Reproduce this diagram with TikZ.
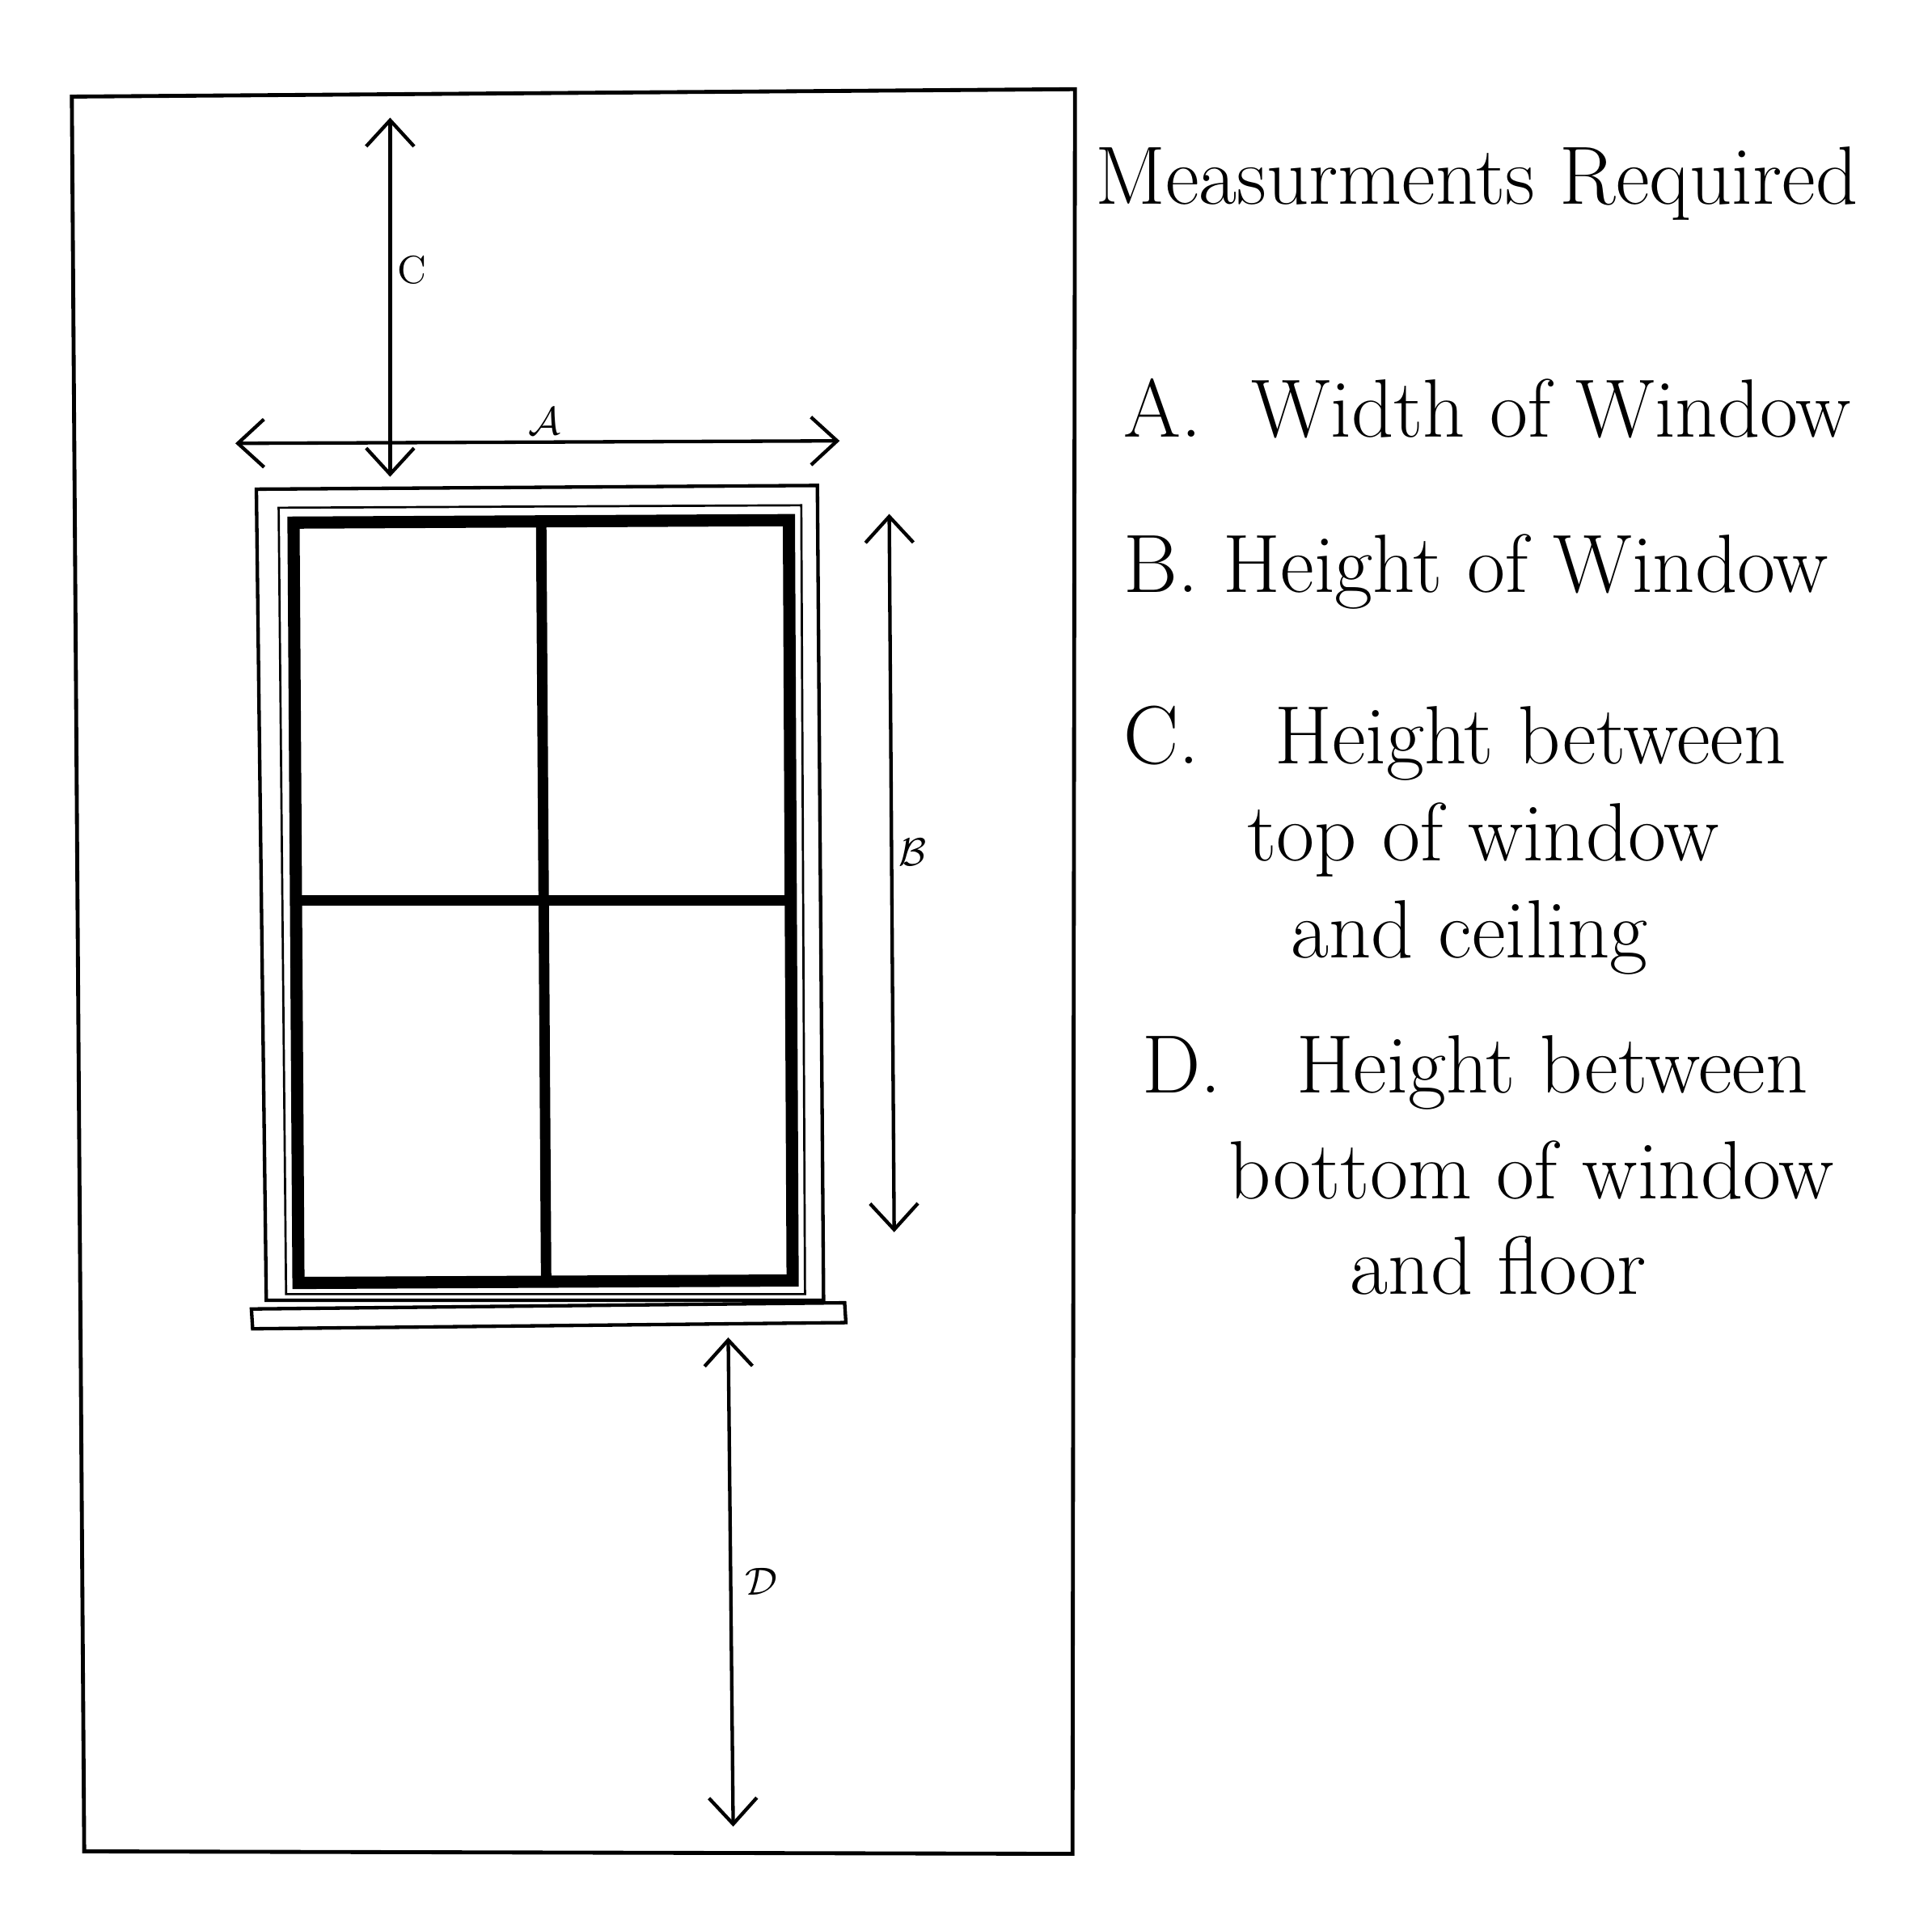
\documentclass[tikz,border=0pt]{standalone}
\usepackage{tikz}
\usetikzlibrary{arrows.meta, positioning}
\tikzset{
  dimline/.style={line width=0.8pt, {Straight Barb[length=6pt,width=11pt]}-{Straight Barb[length=6pt,width=11pt]}},
  dimlabel/.style={font=\small},
  legend/.style={font=\fontsize{19}{22}\selectfont, anchor=west}
}
\begin{document}
\begin{tikzpicture}[x=0.1mm, y=-0.1mm]
  \useasboundingbox (0,0) rectangle (1560,1542);
  % wall
  \draw[line width=0.9pt] (58,78) -- (868,72) -- (866,1497) -- (68,1495) -- cycle;
  % window frame
  \draw[line width=0.8pt] (207,395) -- (660,392) -- (665,1050) -- (215,1050) -- cycle;
  \draw[line width=0.5pt] (225,410) -- (647,408) -- (650,1045) -- (231,1045) -- cycle;
  \draw[line width=2.8pt] (237,422) -- (637,420) -- (640,1034) -- (241,1036) -- cycle;
  \draw[line width=2.4pt] (437,422) -- (441,1035);
  \draw[line width=2.4pt] (239,727) -- (638,727);
  % sill
  \draw[line width=0.8pt] (203,1057) -- (682,1052) -- (683,1068) -- (204,1073) -- cycle;
  % dimension arrows
  \coordinate (Ctop) at (315,95);
  \coordinate (Cbot) at (315,385);
  \draw[dimline] (Ctop) -- (Cbot);
  \node[dimlabel] (Clabel) at (333,218) {C};
  \coordinate (Aleft) at (190,358);
  \coordinate (Aright) at (678,356);
  \draw[dimline] (Aleft) -- (Aright);
  \node[dimlabel] (Alabel) at (440,340) {$\mathcal{A}$};
  \coordinate (Btop) at (718,415);
  \coordinate (Bbot) at (722,995);
  \draw[dimline] (Btop) -- (Bbot);
  \node[dimlabel] (Blabel) at (737,688) {$\mathcal{B}$};
  \coordinate (Dtop) at (588,1080);
  \coordinate (Dbot) at (592,1475);
  \draw[dimline] (Dtop) -- (Dbot);
  \node[dimlabel] (Dlabel) at (615,1277) {$\mathcal{D}$};
  % legend
  \node[legend] (Title) at (872,148) {Measurments Required};
  \node[legend] (LegA) at (895,330) {A.\ \ Width of Window};
  \node[legend] (LegB) at (895,462) {B. Height of Window};
  \node[legend] (LegC) at (895,600) {C.\ \ \ Height between};
  \node[legend] (LegC2) at (995,678) {top of window};
  \node[legend] (LegC3) at (1030,757) {and ceiling};
  \node[legend] (LegD) at (910,866) {D.\ \ \ Height between};
  \node[legend] (LegD2) at (980,945) {bottom of window};
  \node[legend] (LegD3) at (1078,1022) {and floor};
\end{tikzpicture}
\end{document}
